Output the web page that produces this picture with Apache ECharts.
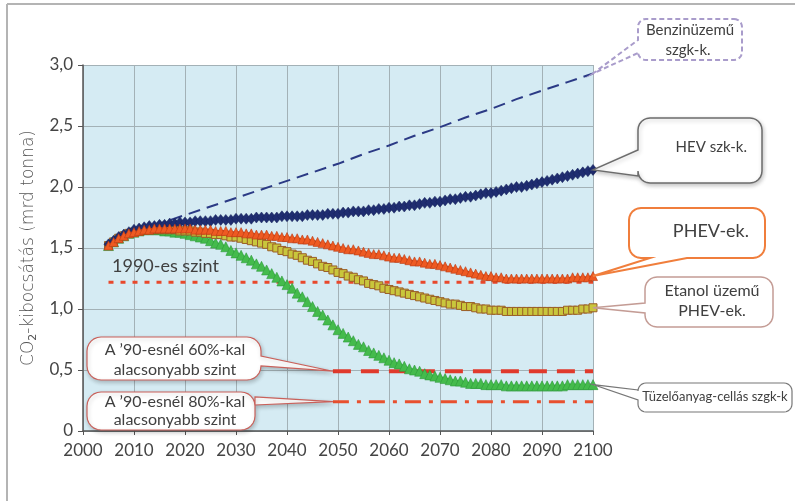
<!DOCTYPE html>
<html>
<head>
<meta charset="utf-8">
<script src="https://cdn.jsdelivr.net/npm/echarts@6/dist/echarts.min.js"></script>
<style>
  html, body { margin: 0; padding: 0; background: #ffffff; }
  #chart { width: 795px; height: 501px; }
</style>
</head>
<body>
<div id="chart"></div>
<script>
// Projected CO2 emissions by vehicle technology, billion tonnes per year
const startYear = 2005;

const hev = [
  1.53, 1.56, 1.59, 1.61, 1.63, 1.65, 1.66, 1.67, 1.68, 1.68,
  1.69, 1.69, 1.70, 1.70, 1.71, 1.71, 1.71, 1.72, 1.72, 1.72,
  1.72, 1.73, 1.73, 1.73, 1.73, 1.74, 1.74, 1.74, 1.74, 1.75,
  1.75, 1.75, 1.75, 1.75, 1.76, 1.76, 1.76, 1.76, 1.76, 1.77,
  1.77, 1.77, 1.77, 1.78, 1.78, 1.78, 1.79, 1.79, 1.80, 1.80,
  1.80, 1.81, 1.81, 1.82, 1.82, 1.83, 1.83, 1.84, 1.84, 1.85,
  1.85, 1.86, 1.87, 1.87, 1.88, 1.88, 1.89, 1.90, 1.90, 1.91,
  1.92, 1.92, 1.93, 1.94, 1.95, 1.95, 1.96, 1.97, 1.98, 1.99,
  2.00, 2.00, 2.01, 2.02, 2.03, 2.04, 2.05, 2.06, 2.07, 2.08,
  2.09, 2.10, 2.11, 2.12, 2.13, 2.14
];

const phev = [
  1.52, 1.55, 1.58, 1.60, 1.62, 1.63, 1.64, 1.65, 1.65, 1.66,
  1.66, 1.66, 1.66, 1.66, 1.66, 1.66, 1.66, 1.65, 1.65, 1.65,
  1.65, 1.64, 1.64, 1.64, 1.63, 1.63, 1.63, 1.62, 1.62, 1.61,
  1.61, 1.61, 1.60, 1.60, 1.59, 1.59, 1.58, 1.58, 1.57, 1.57,
  1.56, 1.55, 1.54, 1.53, 1.52, 1.51, 1.50, 1.49, 1.49, 1.48,
  1.47, 1.46, 1.45, 1.45, 1.44, 1.43, 1.42, 1.42, 1.41, 1.40,
  1.39, 1.39, 1.38, 1.37, 1.37, 1.36, 1.35, 1.34, 1.33, 1.32,
  1.31, 1.30, 1.29, 1.28, 1.27, 1.27, 1.26, 1.26, 1.25, 1.25,
  1.25, 1.25, 1.25, 1.25, 1.25, 1.25, 1.25, 1.25, 1.25, 1.25,
  1.25, 1.26, 1.26, 1.26, 1.26, 1.27
];

const etanol = [
  1.52, 1.55, 1.58, 1.60, 1.62, 1.63, 1.64, 1.65, 1.65, 1.65,
  1.65, 1.65, 1.65, 1.65, 1.64, 1.64, 1.64, 1.63, 1.63, 1.62,
  1.62, 1.61, 1.61, 1.60, 1.59, 1.59, 1.58, 1.57, 1.56, 1.55,
  1.54, 1.53, 1.51, 1.50, 1.48, 1.47, 1.45, 1.44, 1.42, 1.40,
  1.39, 1.37, 1.35, 1.34, 1.32, 1.30, 1.29, 1.27, 1.26, 1.24,
  1.23, 1.21, 1.20, 1.19, 1.17, 1.16, 1.15, 1.14, 1.13, 1.12,
  1.11, 1.10, 1.09, 1.08, 1.07, 1.06, 1.05, 1.04, 1.04, 1.03,
  1.02, 1.02, 1.01, 1.00, 1.00, 0.99, 0.99, 0.99, 0.98, 0.98,
  0.98, 0.98, 0.98, 0.98, 0.98, 0.98, 0.98, 0.98, 0.98, 0.98,
  0.99, 0.99, 0.99, 1.00, 1.00, 1.01
];

const fuelCell = [
  1.52, 1.55, 1.58, 1.60, 1.62, 1.63, 1.64, 1.65, 1.65, 1.65,
  1.65, 1.64, 1.64, 1.63, 1.63, 1.62, 1.61, 1.60, 1.59, 1.58,
  1.56, 1.54, 1.53, 1.51, 1.48, 1.46, 1.44, 1.42, 1.40, 1.37,
  1.35, 1.32, 1.29, 1.26, 1.23, 1.20, 1.17, 1.13, 1.10, 1.06,
  1.02, 0.98, 0.95, 0.91, 0.87, 0.83, 0.80, 0.77, 0.74, 0.71,
  0.69, 0.66, 0.64, 0.62, 0.60, 0.58, 0.56, 0.55, 0.53, 0.51,
  0.50, 0.49, 0.47, 0.46, 0.45, 0.44, 0.43, 0.42, 0.41, 0.41,
  0.40, 0.39, 0.39, 0.39, 0.38, 0.38, 0.38, 0.38, 0.37, 0.37,
  0.37, 0.37, 0.37, 0.37, 0.37, 0.37, 0.37, 0.37, 0.37, 0.37,
  0.38, 0.38, 0.38, 0.38, 0.38, 0.38
];

// Petrol cars: a near-straight rise, read every five years
const petrolYears = [2010, 2015, 2020, 2025, 2030, 2035, 2040, 2045, 2050, 2055, 2060, 2065, 2070, 2075, 2080, 2085, 2090, 2095, 2100];
const petrol =      [1.65, 1.70, 1.77, 1.84, 1.91, 1.98, 2.05, 2.12, 2.19, 2.27, 2.34, 2.42, 2.49, 2.57, 2.64, 2.72, 2.79, 2.86, 2.93];

// Reference levels: 1990 emissions and 60% / 80% below it
const level1990 = 1.22;
const level60 = 0.49;
const level80 = 0.24;
const level1990Years = [2005, 2100];
const levelTargetYears = [2049, 2100];

const FONT = 'Lato, "Open Sans", sans-serif';
const TITLE_FONT = '"DejaVu Sans", sans-serif';
const chart = echarts.init(document.getElementById('chart'), null, { renderer: 'canvas' });

const option = {
  animation: false,
  backgroundColor: '#ffffff',
  grid: {
    left: 83, right: 202, top: 65, bottom: 70,
    show: true, backgroundColor: '#d5ebf3', borderWidth: 0
  },
  xAxis: {
    type: 'value', min: 2000, max: 2100, interval: 10,
    axisLine: { show: true, onZero: false, lineStyle: { color: '#555', width: 1.5 } },
    axisTick: { show: true, length: 4, lineStyle: { color: '#555' } },
    axisLabel: { color: '#444', fontSize: 17, fontFamily: FONT, margin: 11, formatter: v => String(v) },
    splitLine: { show: true, lineStyle: { color: '#a3b1b6', width: 1 } }
  },
  yAxis: {
    type: 'value', min: 0, max: 3, interval: 0.5,
    axisLine: { show: true, lineStyle: { color: '#555', width: 1.5 } },
    axisTick: { show: true, length: 5, lineStyle: { color: '#555' } },
    axisLabel: {
      color: '#444', fontSize: 17, fontFamily: FONT, margin: 10,
      formatter: v => (v === 0 ? '0' : v.toFixed(1).replace('.', ','))
    },
    splitLine: { show: true, lineStyle: { color: '#a3b1b6', width: 1 } },
    name: '{t|CO}{s|2}{t|-kibocsátás (mrd tonna)}',
    nameLocation: 'middle',
    nameGap: 42,
    nameRotate: 90,
    nameTextStyle: {
      fontSize: 17, color: '#555', fontFamily: TITLE_FONT,
      rich: {
        t: { fontSize: 17, color: '#555', fontFamily: TITLE_FONT, fontWeight: 'lighter' },
        s: { fontSize: 11, color: '#555', fontFamily: TITLE_FONT, padding: [9, 0, 0, 0] }
      }
    }
  },
  series: [
    {
      name: 'Benzinüzemű szgk-k.', type: 'line', data: petrolYears.map((y, i) => [y, petrol[i]]),
      showSymbol: false, z: 2,
      lineStyle: { color: '#2b3a85', width: 2, type: [12, 7] }
    },
    {
      name: '1990-es szint', type: 'line', data: level1990Years.map(y => [y, level1990]),
      showSymbol: false, z: 2,
      lineStyle: { color: '#e8482c', width: 3, type: [5, 7] }
    },
    {
      name: '60%', type: 'line', data: levelTargetYears.map(y => [y, level60]),
      showSymbol: false, z: 2,
      lineStyle: { color: '#e03a2c', width: 4, type: [18, 10] }
    },
    {
      name: '80%', type: 'line', data: levelTargetYears.map(y => [y, level80]),
      showSymbol: false, z: 2,
      lineStyle: { color: '#e8502e', width: 3, type: [16, 8, 4, 8] }
    },
    {
      name: 'Tüzelőanyag-cellás szgk-k', type: 'line', data: fuelCell.map((v, i) => [startYear + i, v]),
      symbol: 'triangle', symbolSize: 10, showAllSymbol: true, z: 3,
      lineStyle: { color: '#3daf48', width: 2 },
      itemStyle: { color: '#44bb4c', borderColor: '#2e9a3a', borderWidth: 0.6 }
    },
    {
      name: 'Etanol üzemű PHEV-ek.', type: 'line', data: etanol.map((v, i) => [startYear + i, v]),
      symbol: 'rect', symbolSize: 8, showAllSymbol: true, z: 4,
      lineStyle: { color: '#9c6a2a', width: 2 },
      itemStyle: { color: '#c9c63c', borderColor: '#9a5e28', borderWidth: 1 }
    },
    {
      name: 'HEV szk-k.', type: 'line', data: hev.map((v, i) => [startYear + i, v]),
      symbol: 'diamond', symbolSize: [9, 11], showAllSymbol: true, z: 5,
      lineStyle: { color: '#1d2a6c', width: 2 },
      itemStyle: { color: '#1f2d70', borderColor: '#17225a', borderWidth: 0.5 }
    },
    {
      name: 'PHEV-ek.', type: 'line', data: phev.map((v, i) => [startYear + i, v]),
      symbol: 'triangle', symbolSize: 9, showAllSymbol: true, z: 6,
      lineStyle: { color: '#d9481c', width: 2 },
      itemStyle: { color: '#ee5a22', borderColor: '#b83a14', borderWidth: 0.6 }
    }
  ]
};

chart.setOption(option);

// Speech-bubble outline as a polygon: rounded box with a pointer on one side
function arcPts(cx, cy, r, a0, a1) {
  const pts = [];
  const n = 6;
  for (let k = 0; k <= n; k++) {
    const a = a0 + (a1 - a0) * k / n;
    pts.push([cx + r * Math.cos(a), cy + r * Math.sin(a)]);
  }
  return pts;
}
function bubble(b, tail) {
  const { x, y, w, h, r } = b;
  const P = Math.PI;
  let pts = [];
  pts = pts.concat(arcPts(x + w - r, y + r, r, -P / 2, 0));
  if (tail.side === 'right') pts.push([x + w, tail.a], tail.tip, [x + w, tail.c]);
  pts = pts.concat(arcPts(x + w - r, y + h - r, r, 0, P / 2));
  if (tail.side === 'bottom') pts.push([tail.c, y + h], tail.tip, [tail.a, y + h]);
  pts = pts.concat(arcPts(x + r, y + h - r, r, P / 2, P));
  if (tail.side === 'left') pts.push([x, tail.c], tail.tip, [x, tail.a]);
  pts = pts.concat(arcPts(x + r, y + r, r, P, 1.5 * P));
  return pts;
}

const px = (pt) => chart.convertToPixel({ gridIndex: 0 }, pt);
const last = (vals) => [startYear + vals.length - 1, vals[vals.length - 1]];

const tipPetrol = px([petrolYears[petrolYears.length - 1], petrol[petrol.length - 1]]);
const tipHev = px(last(hev));
const tipPhev = px(last(phev));
const tipEtanol = px(last(etanol));
const tipFuel = px(last(fuelCell));
const tip60 = px([levelTargetYears[0], level60]);
const tip80 = px([levelTargetYears[0], level80]);

function bubbleEl(box, tail, stroke, width, dash, shadow) {
  const style = { fill: '#ffffff', stroke: stroke, lineWidth: width };
  if (dash) style.lineDash = dash;
  if (shadow) {
    style.shadowBlur = 4; style.shadowColor = 'rgba(0,0,0,0.22)';
    style.shadowOffsetX = 1; style.shadowOffsetY = 2;
  }
  return { type: 'polygon', z: 100, shape: { points: bubble(box, tail) }, style: style };
}

function label(text, x, y, size, align) {
  return {
    type: 'text', z: 101, x: x, y: y,
    style: {
      text: text, fill: '#404040', fontSize: size, fontFamily: FONT,
      align: align || 'center', verticalAlign: 'middle'
    }
  };
}

chart.setOption({
  graphic: [
    // outer frame
    { type: 'line', z: 50, shape: { x1: 7, y1: 4, x2: 795, y2: 4 }, style: { stroke: '#b4b4b4', lineWidth: 2 } },
    { type: 'line', z: 50, shape: { x1: 7, y1: 4, x2: 7, y2: 501 }, style: { stroke: '#b4b4b4', lineWidth: 2 } },

    bubbleEl({ x: 638, y: 19, w: 104, h: 41, r: 8 }, { side: 'left', a: 40, c: 53, tip: tipPetrol }, '#a99ccb', 2, [5, 3]),
    label('Benzinüzemű', 690, 30, 15),
    label('szgk-k.', 688, 50, 15),

    bubbleEl({ x: 638, y: 118, w: 124, h: 65, r: 12 }, { side: 'left', a: 150, c: 176, tip: tipHev }, '#6c6c6c', 1.5, null, true),
    label('HEV szk-k.', 747, 147, 15, 'right'),

    bubbleEl({ x: 629, y: 208, w: 136, h: 50, r: 12 }, { side: 'bottom', a: 650, c: 687, tip: tipPhev }, '#f07e3c', 2),
    label('PHEV-ek.', 749, 231, 18, 'right'),

    bubbleEl({ x: 645, y: 277, w: 128, h: 50, r: 12 }, { side: 'left', a: 303, c: 313, tip: tipEtanol }, '#c49c95', 1.5),
    label('Etanol üzemű', 712, 291, 16),
    label('PHEV-ek.', 712, 311, 16),

    bubbleEl({ x: 638, y: 383, w: 154, h: 29, r: 8 }, { side: 'left', a: 390, c: 400, tip: tipFuel }, '#777777', 1.2),
    label('Tüzelőanyag-cellás szgk-k', 715, 397, 13),

    bubbleEl({ x: 87, y: 337, w: 174, h: 43, r: 14 }, { side: 'right', a: 356, c: 366, tip: tip60 }, '#c9605a', 1.2, null, true),
    label('A ’90-esnél 60%-kal', 175, 350, 16),
    label('alacsonyabb szint', 175, 370, 16),

    bubbleEl({ x: 87, y: 392, w: 168, h: 38, r: 14 }, { side: 'right', a: 397, c: 405, tip: tip80 }, '#c9605a', 1.2, null, true),
    label('A ’90-esnél 80%-kal', 175, 402, 16),
    label('alacsonyabb szint', 175, 420, 16),

    label('1990-es szint', 112, 266, 18, 'left')
  ]
});
</script>
</body>
</html>
